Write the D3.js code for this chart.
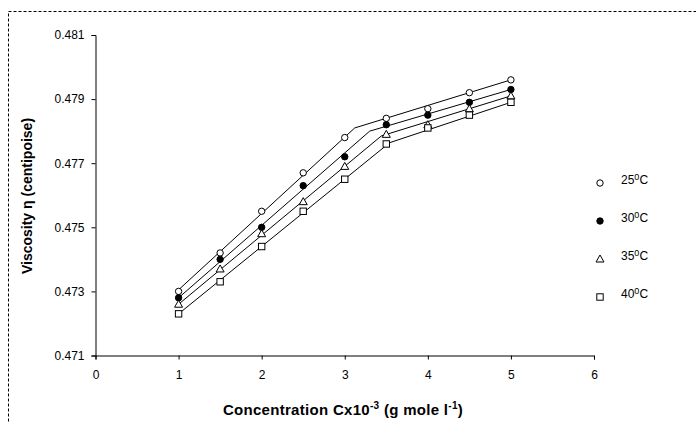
<!DOCTYPE html>
<html lang="en">
<head>
  <meta charset="UTF-8">
  <title>Viscosity vs Concentration</title>
  <script src="https://d3js.org/d3.v7.min.js"></script>
  <style>
    body { margin: 0; background: #fff; }
    text { font-family: "Liberation Sans", Arial, sans-serif; fill: #000; }
    .tick text { font-size: 12px; }
    .axis-title { font-size: 14px; font-weight: bold; }
    .x-title { font-size: 15px; letter-spacing: 0.3px; }
    .legend text { font-size: 12px; }
  </style>
</head>
<body>
  <svg width="696" height="423"></svg>
  <script>
    const concentration = [1, 1.5, 2, 2.5, 3, 3.5, 4, 4.5, 5];
    const temps = ["25", "30", "35", "40"];
    const visc25 = [0.4730, 0.4742, 0.4755, 0.4767, 0.4778, 0.4784, 0.4787, 0.4792, 0.4796];
    const visc30 = [0.4728, 0.4740, 0.4750, 0.4763, 0.4772, 0.4782, 0.4785, 0.4789, 0.4793];
    const visc35 = [0.4726, 0.4737, 0.4748, 0.4758, 0.4769, 0.4779, 0.4782, 0.4787, 0.4791];
    const visc40 = [0.4723, 0.4733, 0.4744, 0.4755, 0.4765, 0.4776, 0.4781, 0.4785, 0.4789];

    // two-part trend lines: start, bend, end
    const fitX = [[1, 3.12, 5], [1, 3.3, 5], [1, 3.44, 5], [1, 3.54, 5]];
    const fitY = [[0.47305, 0.4781, 0.4796], [0.4728, 0.4780, 0.4793],
                  [0.4726, 0.47785, 0.4791], [0.4723, 0.47764, 0.4789]];

    const xTicks = [0, 1, 2, 3, 4, 5, 6];
    const yTicks = [0.471, 0.473, 0.475, 0.477, 0.479, 0.481];

    const series = [visc25, visc30, visc35, visc40];
    const shapes = ["circleOpen", "circleFilled", "triangle", "square"];

    const svg = d3.select("svg");

    // dashed chart border
    svg.append("rect")
       .attr("x", 8.5).attr("y", 11.5)
       .attr("width", 720).attr("height", 440)
       .attr("fill", "none")
       .attr("stroke", "#000")
       .attr("stroke-width", 1)
       .attr("stroke-dasharray", "3,2");

    const x = d3.scaleLinear().domain([0, 6]).range([95.5, 594]);
    const y = d3.scaleLinear().domain([0.471, 0.481]).range([355.5, 35]);

    svg.append("g")
       .attr("transform", `translate(0,${y(0.471)})`)
       .call(d3.axisBottom(x).tickValues(xTicks).tickFormat(d3.format("d"))
             .tickSizeOuter(0).tickSize(4).tickPadding(11));
    svg.append("g")
       .attr("transform", `translate(${x(0)},0)`)
       .call(d3.axisLeft(y).tickValues(yTicks).tickFormat(d3.format(".3f"))
             .tickSizeOuter(0).tickSize(4).tickPadding(7));
    svg.selectAll(".domain, .tick line").attr("stroke", "#000");
    svg.selectAll(".tick text").attr("fill", "#000");

    // trend lines
    const line = d3.line().x(d => x(d[0])).y(d => y(d[1]));
    fitX.forEach((xs, i) => {
      svg.append("path")
         .datum(xs.map((v, j) => [v, fitY[i][j]]))
         .attr("d", line)
         .attr("fill", "none")
         .attr("stroke", "#000")
         .attr("stroke-width", 1);
    });

    function drawMarker(g, shape, cx, cy) {
      if (shape === "circleOpen" || shape === "circleFilled") {
        g.append("circle").attr("cx", cx).attr("cy", cy).attr("r", 3.2)
         .attr("fill", shape === "circleFilled" ? "#000" : "#fff")
         .attr("stroke", "#000").attr("stroke-width", 1);
      } else if (shape === "triangle") {
        const s = 4;
        g.append("path")
         .attr("d", `M${cx},${cy - s}L${cx + s},${cy + s * 0.75}L${cx - s},${cy + s * 0.75}Z`)
         .attr("fill", "#fff").attr("stroke", "#000").attr("stroke-width", 1);
      } else {
        g.append("rect").attr("x", cx - 3.2).attr("y", cy - 3.2)
         .attr("width", 6.4).attr("height", 6.4)
         .attr("fill", "#fff").attr("stroke", "#000").attr("stroke-width", 1);
      }
    }

    // data points
    const marks = svg.append("g");
    series.forEach((vals, i) => {
      vals.forEach((v, j) => drawMarker(marks, shapes[i], x(concentration[j]), y(v)));
    });

    // legend
    const legend = svg.append("g").attr("class", "legend");
    temps.forEach((t, i) => {
      const ly = 183 + i * 38;
      drawMarker(legend, shapes[i], 600, ly);
      const txt = legend.append("text").attr("x", 621).attr("y", ly + 1);
      txt.append("tspan").text(t);
      txt.append("tspan").attr("font-size", "9px").attr("dy", -4).text("0");
      txt.append("tspan").attr("dy", 4).text("C");
    });

    // axis titles
    const xt = svg.append("text").attr("class", "axis-title x-title")
       .attr("x", 343).attr("y", 415).attr("text-anchor", "middle");
    xt.append("tspan").text("Concentration Cx10");
    xt.append("tspan").attr("font-size", "10px").attr("dy", -6).text("-3");
    xt.append("tspan").attr("dy", 6).text(" (g mole l");
    xt.append("tspan").attr("font-size", "10px").attr("dy", -6).text("-1");
    xt.append("tspan").attr("dy", 6).text(")");

    svg.append("text").attr("class", "axis-title")
       .attr("transform", `translate(32,196) rotate(-90)`)
       .attr("text-anchor", "middle")
       .text("Viscosity η (centipoise)");
  </script>
</body>
</html>
